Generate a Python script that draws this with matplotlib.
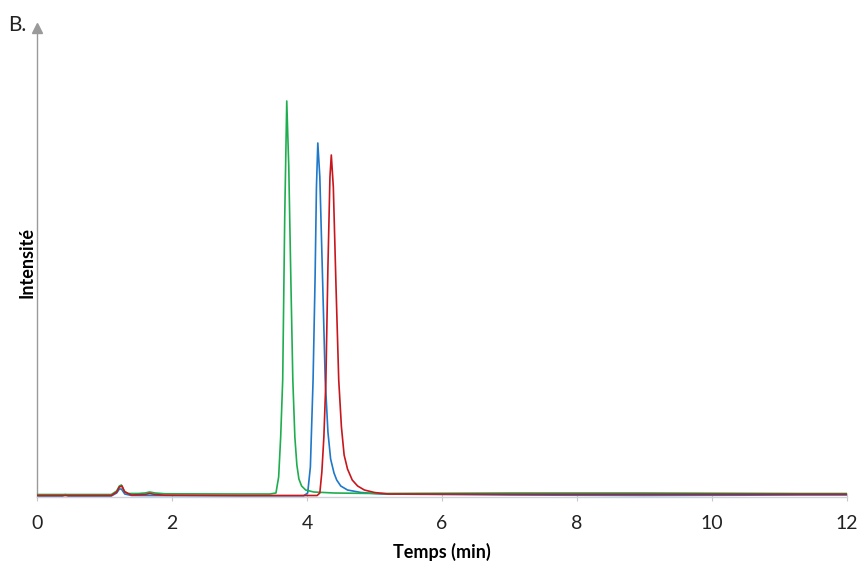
import matplotlib
matplotlib.use("Agg")
import matplotlib.pyplot as plt

# --- data (intensity in arbitrary units) ---
green_t = [0.0, 0.4, 1.10, 1.18, 1.22, 1.25, 1.29, 1.35, 1.50, 1.60, 1.67, 1.75, 1.90, 3.00, 3.45, 3.54, 3.58, 3.61, 3.64,
           3.67, 3.70, 3.73, 3.76, 3.79, 3.82, 3.85, 3.88, 3.92, 3.98, 4.10, 4.40, 5.00, 7.0, 9.0, 11.3, 12.0]
green_i = [2.5, 2.5, 2.5, 6, 11, 12, 6, 3.5, 3.5, 4, 5, 4, 3.2, 3.0, 3.0, 4, 20, 60, 117,
           280, 396, 330, 220, 117, 60, 32, 18, 11, 7, 5, 4, 3.5, 4.0, 4.0, 3.5, 3.5]

blue_t = [0.0, 0.38, 0.42, 0.46, 1.10, 1.18, 1.22, 1.25, 1.30, 1.40, 3.00, 3.95, 4.01, 4.05, 4.09, 4.12,
          4.14, 4.16, 4.19, 4.23, 4.27, 4.31, 4.35, 4.40, 4.44, 4.50, 4.60, 4.80, 5.10, 7.0, 9.0, 11.3, 12.0]
blue_i = [1.0, 1.0, 2.5, 1.0, 1.0, 4, 8, 8, 3, 1.5, 1.2, 1.2, 4, 30, 117, 220,
          310, 354, 320, 220, 117, 65, 38, 24, 17, 11, 7, 4.5, 3, 2.0, 1.5, 2.0, 2.0]

red_t = [0.0, 1.10, 1.18, 1.22, 1.26, 1.30, 1.40, 1.60, 1.67, 1.75, 1.90, 3.00, 4.15, 4.19, 4.22, 4.25, 4.28, 4.31,
         4.34, 4.36, 4.39, 4.43, 4.47, 4.51, 4.55, 4.60, 4.67, 4.75, 4.85, 5.00, 5.20, 7.0, 9.0, 11.3, 12.0]
red_i = [1.5, 1.5, 5, 10, 11, 5, 2, 2.5, 3.5, 2.5, 1.8, 1.5, 1.5, 4, 25, 60, 117, 230,
         320, 342, 310, 210, 117, 70, 42, 28, 17, 11, 7, 4.5, 3.0, 2.8, 2.8, 2.8, 2.8]

x_ticks = [0, 2, 4, 6, 8, 10, 12]

# --- figure ---
plt.rcParams['font.family'] = ['Lato', 'DejaVu Sans']
fig = plt.figure(figsize=(8.59, 5.62), dpi=100)
W, H = 859, 562
ax = fig.add_axes([37 / W, (H - 497) / H, (847 - 37) / W, (497 - 28) / H])

ax.plot(green_t, green_i, color="#1fae4f", lw=1.2, zorder=3)
ax.plot(blue_t, blue_i, color="#1f78c8", lw=1.2, zorder=2)
ax.plot(red_t, red_i, color="#c8161d", lw=1.2, zorder=4)

ax.set_xlim(0, 12)
ax.set_ylim(0, 469)
ax.set_xticks(x_ticks)
ax.set_xticklabels([str(v) for v in x_ticks], fontsize=14, color="#222222")
ax.tick_params(axis="x", direction="inout", length=6, color="#c8c8c8", pad=10)
ax.set_yticks([])

for s in ["top", "right"]:
    ax.spines[s].set_visible(False)
ax.spines["left"].set_color("#9a9a9a")
ax.spines["left"].set_linewidth(1.0)
ax.spines["bottom"].set_color("#cfd3d8")
ax.spines["bottom"].set_linewidth(1.0)

# arrow head on y axis
ax.plot([0], [1.0], marker="^", markersize=7, color="#9a9a9a", transform=ax.transAxes,
        clip_on=False, zorder=5)

ax.set_xlabel("Temps (min)", fontsize=13, fontweight="bold", labelpad=8)
ax.set_ylabel("Intensité", fontsize=13, fontweight="bold", labelpad=1)

fig.text(8 / W, 1 - 31 / H, "B.", fontsize=15, color="#222222")

fig.savefig("out.png", dpi=100)
